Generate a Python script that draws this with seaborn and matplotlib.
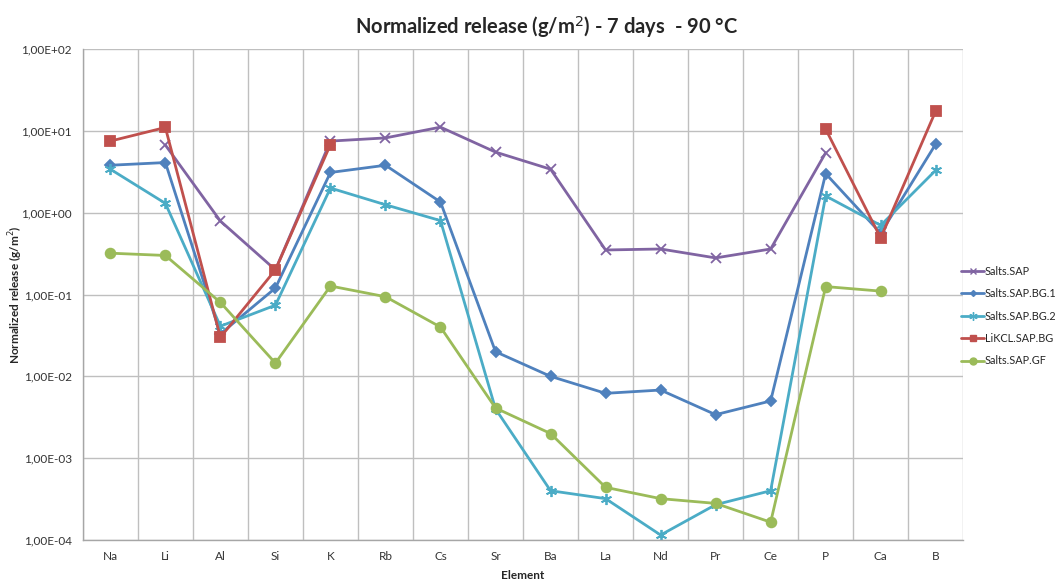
import numpy as np
import pandas as pd
import matplotlib
matplotlib.use("Agg")
import matplotlib.pyplot as plt
import seaborn as sns
from matplotlib.ticker import FixedLocator, FuncFormatter, NullFormatter
from matplotlib.lines import Line2D

elements = ["Na", "Li", "Al", "Si", "K", "Rb", "Cs", "Sr", "Ba", "La", "Nd", "Pr", "Ce", "P", "Ca", "B"]
nan = np.nan

salts_sap = [nan, 6.7, 0.79, 0.2, 7.5, 8.2, 11.1, 5.5, 3.4, 0.35, 0.36, 0.28, 0.36, 5.4, nan, nan]
salts_sap_bg1 = [3.8, 4.1, 0.033, 0.12, 3.1, 3.8, 1.35, 0.020, 0.010, 0.0062, 0.0068, 0.0034, 0.0050, 3.0, 0.56, 6.9]
salts_sap_bg2 = [3.4, 1.3, 0.041, 0.074, 2.0, 1.25, 0.8, 0.0040, 0.0004, 0.00032, 0.000115, 0.00027, 0.0004, 1.6, 0.7, 3.3]
likcl_sap_bg = [7.5, 11.0, 0.030, 0.2, 6.8, nan, nan, nan, nan, nan, nan, nan, nan, 10.5, 0.49, 17.5]
salts_sap_gf = [0.32, 0.30, 0.08, 0.0145, 0.127, 0.094, 0.04, 0.0041, 0.002, 0.00044, 0.00032, 0.00028, 0.000165, 0.125, 0.11, nan]

series = [
    ("Salts.SAP", salts_sap, "#8064A2", "x", 7),
    ("Salts.SAP.BG.1", salts_sap_bg1, "#4F81BD", "D", 5),
    ("Salts.SAP.BG.2", salts_sap_bg2, "#4BACC6", (6, 2, 0), 8),
    ("LiKCL.SAP.BG", likcl_sap_bg, "#C0504D", "s", 7),
    ("Salts.SAP.GF", salts_sap_gf, "#9BBB59", "o", 7),
]

sns.set_style("white")
plt.rcParams["font.family"] = ["Lato", "DejaVu Sans"]

fig = plt.figure(figsize=(10.62, 5.81), dpi=100)
ax = fig.add_axes([0.078, 0.0706, 0.829, 0.845])

idx = np.arange(len(elements))
handles = []
for name, vals, col, mk, ms in series:
    df = pd.DataFrame({"x": idx, "y": vals})
    # split into contiguous segments so gaps stay gaps
    df["seg"] = df["y"].isna().cumsum()
    df = df.dropna()
    for _, part in df.groupby("seg"):
        sns.lineplot(data=part, x="x", y="y", color=col, marker=mk, markersize=ms,
                     markeredgecolor=col, markeredgewidth=1.3, linewidth=2,
                     ax=ax, legend=False)
    handles.append(Line2D([0], [0], color=col, marker=mk, markersize=ms - 2,
                          markeredgecolor=col, linewidth=2, label=name))

ax.set_yscale("log")
ax.set_ylim(1e-4, 1e2)
ax.set_xlim(-0.5, len(elements) - 0.5)

ax.yaxis.set_major_locator(FixedLocator([10.0 ** k for k in range(-4, 3)]))
ax.yaxis.set_minor_formatter(NullFormatter())
ax.yaxis.set_minor_locator(FixedLocator([]))
ax.yaxis.set_major_formatter(FuncFormatter(lambda v, p: ("%.2E" % v).replace(".", ",")))

ax.set_xticks(idx)
ax.set_xticklabels(elements)
ax.set_xticks(np.arange(-0.5, len(elements)), minor=True)
ax.tick_params(axis="x", which="major", length=0, pad=8, labelsize=8.5, colors="#333333")
ax.tick_params(axis="x", which="minor", length=5, color="#a6a6a6")
ax.tick_params(axis="y", length=5, pad=3, color="#a6a6a6", labelsize=8.5, colors="#333333")

ax.grid(False)
ax.grid(True, which="major", axis="y", color="#bfbfbf", linewidth=1)
ax.grid(True, which="minor", axis="x", color="#bfbfbf", linewidth=1)
for s in ["top", "right"]:
    ax.spines[s].set_visible(False)
for s in ["left", "bottom"]:
    ax.spines[s].set_color("#a6a6a6")
    ax.spines[s].set_linewidth(1)

ax.set_xlabel("Element", fontsize=8.5, fontweight="bold", labelpad=6)
ax.set_ylabel("Normalized release (g/m$^2$)", fontsize=8.5, fontweight="bold")
ax.yaxis.set_label_coords(-0.066, 0.5)
fig.suptitle("Normalized release (g/m$^2$) - 7 days  - 90 °C", fontsize=14.5,
             fontweight="bold", y=0.975, x=0.515)

ax.legend(handles=handles, loc="center left", bbox_to_anchor=(0.998, 0.456),
          frameon=False, fontsize=7.8, handlelength=2.1, handletextpad=0.05,
          labelspacing=1.05, borderpad=0, borderaxespad=0)

fig.savefig("out.png", dpi=100)
